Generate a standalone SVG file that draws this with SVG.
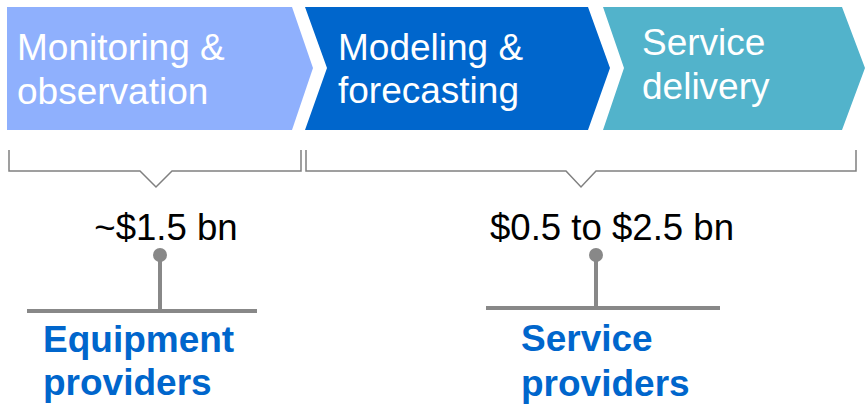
<svg xmlns="http://www.w3.org/2000/svg" width="866" height="411" viewBox="0 0 866 411">
<style>
.ct{font-family:"Liberation Sans",Arial,sans-serif;font-size:37px;fill:#fff}
.val{font-family:"Liberation Sans",Arial,sans-serif;font-size:36.6px;fill:#000}
.lab{font-family:"Liberation Sans",Arial,sans-serif;font-size:37px;font-weight:bold;fill:#0066CC}
.br{fill:none;stroke:#808080;stroke-width:1.5}
.pin{fill:none;stroke:#888;stroke-width:4}
</style>
<rect width="866" height="411" fill="#fff"/>
<g id="stage1">
<polygon points="7,7 292,7 313,68 292,130 7,130" fill="#8FB0FD"/>
<text class="ct" x="17" y="60">Monitoring &amp;</text>
<text class="ct" x="17" y="104">observation</text>
</g>
<g id="stage2">
<polygon points="305,7 588,7 610,68 588,130 305,130 327,68" fill="#0066CC"/>
<text class="ct" x="338" y="60">Modeling &amp;</text>
<text class="ct" x="338" y="103">forecasting</text>
</g>
<g id="stage3">
<polygon points="603,7 842,7 865,68 842,130 603,130 624,68" fill="#52B3CB"/>
<text class="ct" x="642" y="55">Service</text>
<text class="ct" x="642" y="99">delivery</text>
</g>
<g id="connectors">
<path class="br" d="M9,150 V171 H140 L156,187 L172,171 H301 V150"/>
<path class="br" d="M306,150 V171 H566 L581,187 L596,171 H856 V150"/>
<line class="pin" x1="160" y1="255" x2="160" y2="311"/>
<line class="pin" x1="27" y1="311" x2="257" y2="311"/>
<circle cx="160" cy="255" r="7" fill="#888"/>
<line class="pin" x1="596" y1="255" x2="596" y2="308"/>
<line class="pin" x1="486" y1="308" x2="720" y2="308"/>
<circle cx="596" cy="255" r="7" fill="#888"/>
</g>
<g id="value1">
<text class="val" x="166" y="240" text-anchor="middle">~$1.5 bn</text>
</g>
<g id="value2">
<text class="val" x="612" y="240" text-anchor="middle">$0.5 to $2.5 bn</text>
</g>
<g id="equipment">
<text class="lab" x="43" y="352">Equipment</text>
<text class="lab" x="43" y="395">providers</text>
</g>
<g id="service">
<text class="lab" x="521" y="351">Service</text>
<text class="lab" x="521" y="396">providers</text>
</g>
</svg>
